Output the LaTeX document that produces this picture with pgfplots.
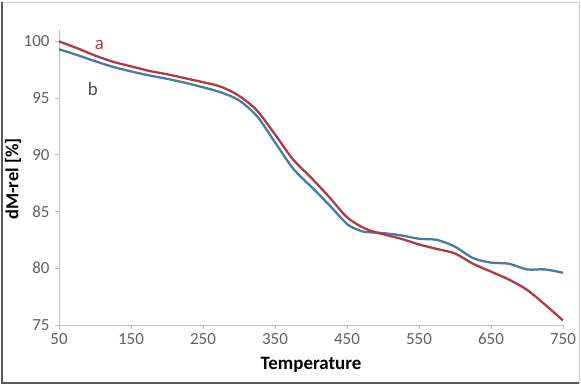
\documentclass[border=0pt]{standalone}
\usepackage{fontspec}
\setmainfont{Carlito}
\usepackage{pgfplots}
\pgfplotsset{compat=1.18}
\definecolor{cA}{RGB}{180,58,66}
\definecolor{cB}{RGB}{72,124,162}
\definecolor{tickgray}{RGB}{95,95,95}
\definecolor{axgray}{RGB}{190,190,190}
\begin{document}
\begin{tikzpicture}
\path[use as bounding box] (0,0) rectangle (581bp,385bp);
\draw[line width=0.8bp, color=black!20] (1bp,383bp) -- (579.5bp,383bp) -- (579.5bp,2bp);
\draw[line width=2.2bp, color=black!65] (2bp,383bp) -- (2bp,2bp) -- (579bp,2bp);
\begin{axis}[
  at={(59bp,60bp)}, anchor=south west,
  scale only axis, width=504bp, height=295bp,
  xmin=50, xmax=750, ymin=75, ymax=101,
  xtick={50,150,...,750}, ytick={75,80,...,100},
  axis x line*=bottom, axis y line*=left,
  axis line style={axgray, line width=0.8bp, -},
  tick style={axgray, line width=0.8bp},
  tick align=outside, major tick length=4bp,
  /pgf/number format/assume math mode=true,
  /pgf/number format/set thousands separator={},
  tick label style={font=\fontsize{17}{17}\selectfont, text=tickgray},
  yticklabel style={xshift=-2bp},
  xticklabel style={yshift=-1bp},
  clip=false,
]
\addplot[cB, line width=2.3bp, smooth, tension=0.5] coordinates {
(50,99.3) (75,98.8) (100,98.25) (125,97.75) (150,97.35) (175,97.0) (200,96.7)
(225,96.35) (250,95.95) (275,95.5) (300,94.8) (325,93.4) (350,91.1) (375,88.8)
(400,87.2) (425,85.6) (450,83.9) (465,83.4) (475,83.2) (500,83.1) (525,82.9)
(550,82.6) (575,82.5) (600,81.9) (625,80.9) (650,80.5) (675,80.4) (700,79.9)
(725,79.9) (750,79.6)};
\addplot[cA, line width=2.3bp, smooth, tension=0.5] coordinates {
(50,100.0) (75,99.4) (100,98.75) (125,98.2) (150,97.8) (175,97.4)
(200,97.1) (225,96.75) (250,96.4) (275,96.0) (300,95.2) (325,93.9) (350,91.8)
(375,89.6) (400,88.0) (425,86.3) (450,84.5) (475,83.5) (500,83.0) (525,82.6)
(550,82.1) (575,81.7) (600,81.3) (625,80.4) (650,79.7) (675,79.0) (700,78.1)
(725,76.8) (750,75.4)};
\node[text=cA, font=\fontsize{19}{19}\selectfont] at (axis cs:106,99.65) {a};
\node[text=black!70, font=\fontsize{19}{19}\selectfont] at (axis cs:97,95.8) {b};
\end{axis}
\node[font=\bfseries\fontsize{19}{19}\selectfont] at (311bp,20bp) {Temperature};
\node[font=\bfseries\fontsize{18.5}{19}\selectfont, rotate=90] at (13bp,206bp) {dM-rel [\%]};
\end{tikzpicture}
\end{document}
